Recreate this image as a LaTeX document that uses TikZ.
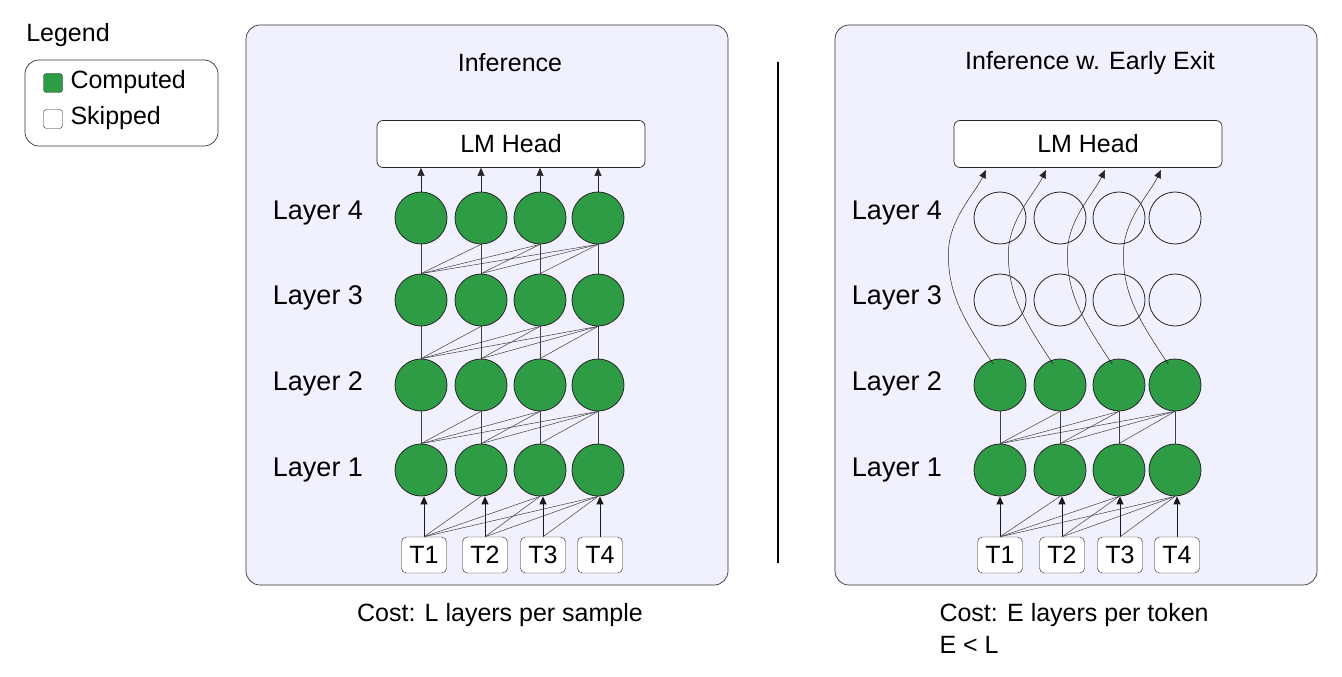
\documentclass[tikz,border=0pt]{standalone}
\usepackage{fontspec}
\setmainfont{Liberation Sans}
\usetikzlibrary{arrows.meta}
\definecolor{panel}{HTML}{F0F0FF}
\definecolor{comp}{HTML}{2E9C45}
\begin{document}
\begin{tikzpicture}[x=1pt,y=-1pt,
  panelbox/.style={draw=black!80, fill=panel, rounded corners=14pt, line width=0.7pt},
  cell/.style={circle, draw=black!85, line width=0.8pt, minimum size=52pt, inner sep=0pt},
  on/.style={cell, fill=comp},
  off/.style={cell, fill=none},
  tok/.style={draw=black!85, fill=white, rounded corners=5pt, minimum width=45pt, minimum height=36pt, inner sep=0pt, font=\fontsize{25}{28}\selectfont},
  head/.style={draw=black!85, fill=white, rounded corners=6pt, minimum width=268pt, minimum height=47pt, line width=0.7pt, font=\fontsize{25}{28}\selectfont},
  lbl/.style={font=\fontsize{27}{30}\selectfont},
  txt/.style={font=\fontsize{25}{28}\selectfont},
  thin/.style={draw=black!75, line width=0.5pt},
  arr/.style={draw=black!90, line width=1pt, -{Triangle[length=8pt,width=7pt]}},
  arrthin/.style={draw=black!85, line width=0.6pt, -{Triangle[length=8pt,width=7pt]}}]
\useasboundingbox (0,0) rectangle (1342,677);
% legend
\node[txt] (legt) at (68,35) {Legend};
\node[draw=black!80, rounded corners=14pt, minimum width=193pt, minimum height=86pt, line width=0.7pt] (legbox) at (121.5,103) {};
\node[draw=black!85, fill=comp, rounded corners=3pt, minimum size=19pt, inner sep=0pt] (lg1) at (53,83) {};
\node[draw=black!85, fill=white, rounded corners=3pt, minimum size=19pt, inner sep=0pt] (lg2) at (53,119) {};
\node[txt, anchor=west] (lgt1) at (67,82) {Computed};
\node[txt, anchor=west] (lgt2) at (67,118) {Skipped};
% panels
\node[panelbox, minimum width=482pt, minimum height=560pt] (pA) at (487,305) {};
\node[panelbox, minimum width=482pt, minimum height=560pt] (pB) at (1076,305) {};
\coordinate (div) at (778,62);
\coordinate (divb) at (778,563);
\draw[line width=1.6pt] (div) -- (divb);
\node[txt] (tA) at (510,63) {Inference};
\node[txt] (tB) at (1090,63) {Inference w. Early Exit};
\node[head] (hA) at (511,144) {LM Head};
\node[head] (hB) at (1088,144) {LM Head};
\node[txt] (cA) at (500,615) {Cost: L layers per sample};
\node[txt, anchor=west] (cB) at (936,615) {Cost: E layers per token};
\node[txt, anchor=west] (cB2) at (936,645) {E < L};
% layer labels
\foreach \r/\y in {4/213,3/298,2/384,1/470}{
  \node[lbl] (labA\r) at (318,\y) {Layer \r};
  \node[lbl] (labB\r) at (897,\y) {Layer \r};
}
% nodes
\foreach \r/\y in {4/218,3/300,2/385,1/470}{
  \foreach \i/\x in {1/421,2/481,3/540,4/598}{
    \node[on] (A\r\i) at (\x,\y) {};
  }
}
\foreach \r/\y/\s in {4/218/off,3/300/off,2/385/on,1/470/on}{
  \foreach \i/\x in {1/1000,2/1060,3/1119,4/1175}{
    \node[\s] (B\r\i) at (\x,\y) {};
  }
}
\foreach \i/\x in {1/424,2/485,3/543,4/600}{ \node[tok] (TA\i) at (\x,555) {T\i}; }
\foreach \i/\x in {1/1000,2/1062,3/1120,4/1177}{ \node[tok] (TB\i) at (\x,555) {T\i}; }
% left connections
\foreach \r [evaluate=\r as \u using int(\r+1)] in {1,2,3}{
  \foreach \i in {1,...,4}{
    \draw[thin] (A\r\i.north) -- (A\u\i.south);
    \foreach \j in {1,...,4}{
      \ifnum\j>\i \draw[thin] (A\r\i.north) -- (A\u\j.south); \fi
    }
  }
}
\foreach \i in {1,...,4}{
  \draw[arr] (TA\i.north) -- (TA\i.north |- A1\i.south);
  \foreach \j in {1,...,4}{ \ifnum\j>\i \draw[thin] (TA\i.north) -- (A1\j.south); \fi }
  \draw[arrthin] (A4\i.north) -- (A4\i.north |- hA.south);
}
% right connections
\foreach \i in {1,...,4}{
  \draw[thin] (B1\i.north) -- (B2\i.south);
  \foreach \j in {1,...,4}{ \ifnum\j>\i \draw[thin] (B1\i.north) -- (B2\j.south); \fi }
  \draw[arr] (TB\i.north) -- (TB\i.north |- B1\i.south);
  \foreach \j in {1,...,4}{ \ifnum\j>\i \draw[thin] (TB\i.north) -- (B1\j.south); \fi }
}
\foreach \i/\x in {1/1000,2/1060,3/1119,4/1175}{
  \coordinate (hB\i) at (\x-14,170);
  \draw[arrthin, line width=0.5pt] (B2\i.north west) ++(12,-2) .. controls +(-30,-45) and +(0,40) .. ++(-45,-110) .. controls +(0,-35) and +(-12,25) .. (hB\i);
}
\end{tikzpicture}
\end{document}
